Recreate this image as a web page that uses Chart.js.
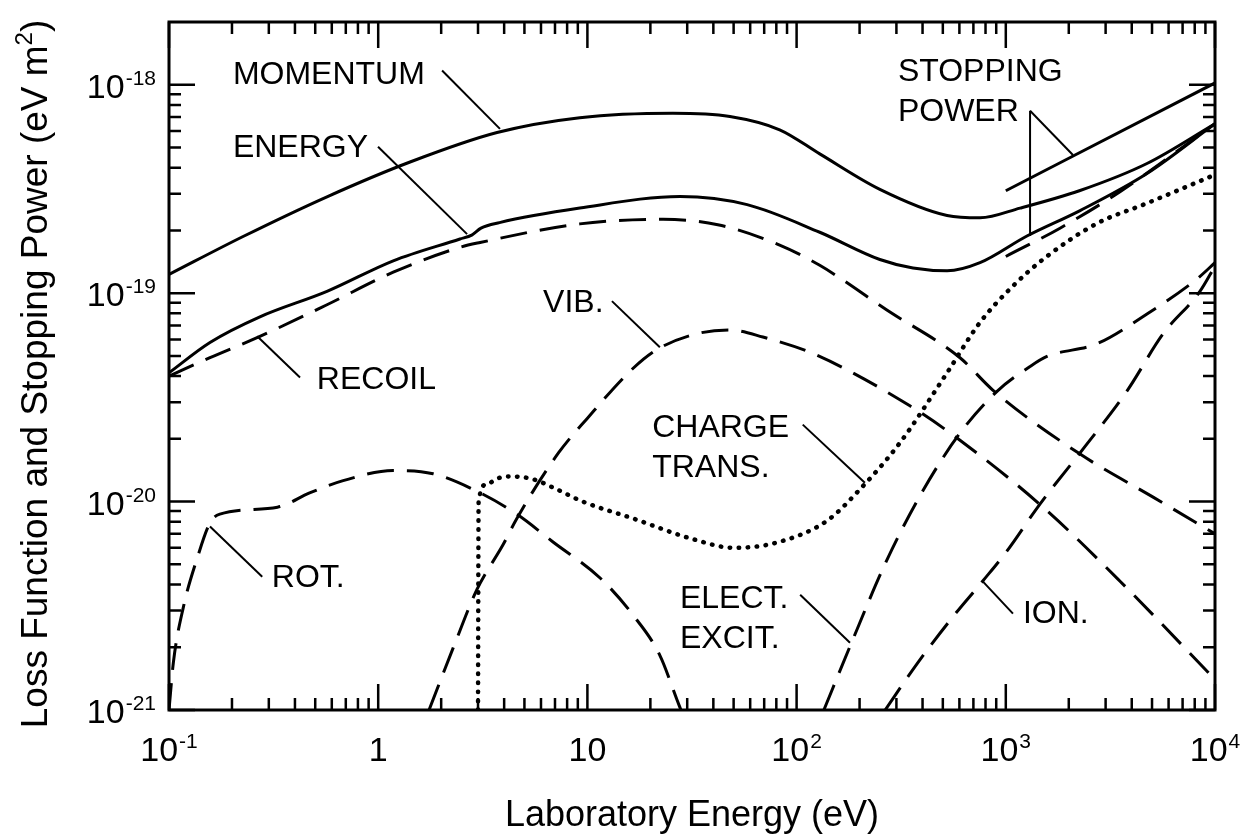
<!DOCTYPE html>
<html>
<head>
<meta charset="utf-8">
<title>Loss Function and Stopping Power</title>
<script src="https://cdn.jsdelivr.net/npm/chart.js"></script>
<style>
  html, body { margin: 0; padding: 0; background: #fff; }
  #wrap { width: 1246px; height: 836px; }
</style>
</head>
<body>
<div id="wrap"><canvas id="lossChart" width="1246" height="836"></canvas></div>
<script>
// values, [laboratory energy (eV), value (eV m^2)]
var momentum = [[0.1, 1.23e-19], [0.226, 1.87e-19], [0.569, 2.9e-19], [1.42, 4.26e-19], [3.7, 5.9e-19],
  [9.2, 6.95e-19], [25.6, 7.3e-19], [48, 7.04e-19], [83, 6.08e-19], [129, 4.66e-19], [250, 3.15e-19],
  [524, 2.36e-19], [753, 2.3e-19], [1170, 2.56e-19], [2265, 3.11e-19], [4730, 4.19e-19], [10000, 6.5e-19]];
var energy = [[0.1, 4.15e-20], [0.157, 5.8e-20], [0.272, 7.7e-20], [0.569, 1.02e-19], [1.18, 1.43e-19],
  [2.46, 1.82e-19], [2.8, 1.9e-19], [3.1, 2.05e-19], [3.8, 2.18e-19], [9.2, 2.56e-19], [27.7, 2.91e-19],
  [58, 2.66e-19], [129, 1.96e-19], [250, 1.45e-19], [360, 1.32e-19], [524, 1.28e-19], [753, 1.4e-19],
  [1262, 1.88e-19], [2265, 2.49e-19], [4730, 3.75e-19], [10000, 6.5e-19]];
var recoil = [[0.1, 4.0e-20], [0.157, 4.9e-20], [0.272, 6.2e-20], [0.569, 8.8e-20], [1.18, 1.26e-19],
  [2.46, 1.66e-19], [3.07, 1.75e-19], [9.2, 2.15e-19], [23, 2.26e-19], [42, 2.13e-19], [83, 1.7e-19],
  [129, 1.36e-19], [270, 8.3e-20], [604, 4.9e-20], [869, 3.42e-20], [2265, 1.69e-20], [5060, 1.05e-20],
  [10000, 7.0e-21]];
var vibration = [[1.75, 1.0e-21], [2.28, 1.98e-21], [2.97, 3.8e-21], [3.95, 6.2e-21], [4.6, 8.3e-21],
  [7.3, 1.72e-20], [9.96, 2.5e-20], [16.5, 4.35e-20], [21.5, 5.36e-20], [33.4, 6.39e-20], [48, 6.66e-20],
  [69, 6.16e-20], [122, 5.09e-20], [348, 2.88e-20], [604, 1.97e-20], [1507, 9.4e-21], [3516, 4.15e-21],
  [10000, 1.4e-21]];
var rotation = [[0.1, 1.0e-21], [0.105, 1.7e-21], [0.117, 3.1e-21], [0.136, 5.3e-21], [0.157, 7.9e-21],
  [0.175, 8.7e-21], [0.33, 9.4e-21], [0.47, 1.1e-20], [0.68, 1.26e-20], [1.18, 1.41e-20], [1.83, 1.36e-20],
  [2.97, 1.12e-20], [4.6, 8.7e-21], [6.85, 6.4e-21], [11.5, 4.3e-21], [16.5, 2.86e-21], [22.2, 1.83e-21],
  [26.8, 1.12e-21], [28, 1.0e-21]];
var chargeTransfer = [[3.0, 1.0e-21], [3.02, 1.0e-20], [3.3, 1.21e-20], [3.7, 1.29e-20], [4.3, 1.32e-20],
  [5.5, 1.28e-20], [7.2, 1.14e-20], [9.5, 1.0e-20], [16.5, 8.3e-21], [32, 6.6e-21], [50, 6.0e-21],
  [80, 6.35e-21], [140, 8.1e-21], [200, 1.14e-20], [310, 1.9e-20], [520, 4.1e-20], [750, 7.2e-20],
  [1080, 1.08e-19], [1570, 1.5e-19], [2730, 2.16e-19], [4730, 2.7e-19], [10000, 3.7e-19]];
var electExcit = [[135, 1.0e-21], [180, 2.02e-21], [270, 5.24e-21], [402, 1.13e-20], [604, 2.13e-20],
  [908, 3.38e-20], [1306, 4.45e-20], [1573, 4.97e-20], [2730, 5.72e-20], [4730, 7.95e-20],
  [8200, 1.17e-19], [10000, 1.4e-19]];
var ionization = [[265, 1.0e-21], [377, 1.67e-21], [560, 2.81e-21], [778, 4.17e-21], [1014, 5.8e-21],
  [1459, 9.76e-21], [2445, 1.89e-20], [3800, 3.4e-20], [5640, 6.37e-20], [8470, 1.02e-19], [10000, 1.35e-19]];
var stoppingUpper = [[1000, 3.1e-19], [10000, 1.02e-18]];
var stoppingLower = [[1000, 1.5e-19], [1816, 2.05e-19], [3516, 3.07e-19], [10000, 6.5e-19]];

// axes
var xTickValues = [0.1, 1, 10, 100, 1000, 10000];
var xTickText = [['10', '-1'], ['1', ''], ['10', ''], ['10', '2'], ['10', '3'], ['10', '4']];
var yTickValues = [1e-21, 1e-20, 1e-19, 1e-18];
var yTickText = [['10', '-21'], ['10', '-20'], ['10', '-19'], ['10', '-18']];
var xTitle = 'Laboratory Energy (eV)';
var yTitle = ['Loss Function and Stopping Power (eV m', '2', ')'];

// curve labels, placed in data coordinates
var notes = [
  { lines: ['MOMENTUM'], at: [0.202, 1.01e-18], leaders: [[[2.02, 1.17e-18], [3.82, 6.14e-19]]] },
  { lines: ['ENERGY'], at: [0.202, 4.51e-19], leaders: [[[0.998, 5.04e-19], [2.66, 1.92e-19]]] },
  { lines: ['RECOIL'], at: [0.509, 3.45e-20], leaders: [[[0.423, 3.94e-20], [0.264, 6.21e-20]]] },
  { lines: ['VIB.'], at: [6.14, 8.1e-20], leaders: [[[13.1, 9.16e-20], [22.2, 5.5e-20]]] },
  { lines: ['CHARGE', 'TRANS.'], at: [20.4, 2.05e-20], leaders: [[[107, 2.34e-20], [212, 1.23e-20]]] },
  { lines: ['ELECT.', 'EXCIT.'], at: [27.7, 3.09e-21], leaders: [[[104, 3.57e-21], [180, 2.1e-21]]] },
  { lines: ['ION.'], at: [1208, 2.62e-21], leaders: [[[1082, 2.9e-21], [778, 4.13e-21]]] },
  { lines: ['ROT.'], at: [0.31, 3.9e-21], leaders: [[[0.279, 4.36e-21], [0.157, 7.59e-21]]] },
  { lines: ['STOPPING', 'POWER'], at: [305, 1.04e-18],
    leaders: [[[1306, 7.5e-19], [1306, 1.88e-19]], [[1306, 7.5e-19], [2094, 4.6e-19]]] }
];

var FONT = '"Liberation Sans", Arial, Helvetica, sans-serif';
var DASH = [27, 13];
var DOT = [0.5, 8.5];

function series(label, points, dash) {
  return {
    label: label,
    data: points.map(function (p) { return { x: p[0], y: p[1] }; }),
    borderColor: '#000',
    borderWidth: dash === DOT ? 4.5 : 3,
    borderDash: dash || [],
    borderCapStyle: dash === DOT ? 'round' : 'butt',
    pointRadius: 0,
    fill: false,
    cubicInterpolationMode: 'monotone'
  };
}

// draws a "10" with a raised exponent, y is the baseline of the base
function drawPower(ctx, parts, x, y, align) {
  ctx.font = '34px ' + FONT;
  var wb = ctx.measureText(parts[0]).width;
  ctx.font = '21px ' + FONT;
  var we = parts[1] ? ctx.measureText(parts[1]).width + 1 : 0;
  var x0 = align === 'right' ? x - wb - we : x - (wb + we) / 2;
  ctx.textAlign = 'left';
  ctx.font = '34px ' + FONT;
  ctx.fillText(parts[0], x0, y);
  if (parts[1]) {
    ctx.font = '21px ' + FONT;
    ctx.fillText(parts[1], x0 + wb + 1, y - 13);
  }
}

var decorations = {
  id: 'decorations',
  beforeDraw: function (chart) {
    var ctx = chart.ctx;
    ctx.save();
    ctx.fillStyle = '#fff';
    ctx.fillRect(0, 0, chart.width, chart.height);
    ctx.restore();
  },
  afterDatasetsDraw: function (chart) {
    var ctx = chart.ctx, a = chart.chartArea;
    var xs = chart.scales.x, ys = chart.scales.y;
    ctx.save();
    ctx.strokeStyle = '#000';
    ctx.fillStyle = '#000';

    // frame
    ctx.lineWidth = 3;
    ctx.strokeRect(a.left, a.top, a.right - a.left, a.bottom - a.top);

    // inward ticks on all four sides
    ctx.lineWidth = 2.5;
    ctx.beginPath();
    var e, m, v, p, len;
    for (e = -1; e <= 4; e++) {
      for (m = 1; m <= 9; m++) {
        v = m * Math.pow(10, e);
        if (v > 10000 * 1.0001) break;
        p = xs.getPixelForValue(v);
        len = m === 1 ? 26 : 12;
        ctx.moveTo(p, a.bottom); ctx.lineTo(p, a.bottom - len);
        ctx.moveTo(p, a.top); ctx.lineTo(p, a.top + len);
      }
    }
    for (e = -21; e <= -18; e++) {
      for (m = 1; m <= 9; m++) {
        v = m * Math.pow(10, e);
        if (v > 2e-18 * 0.999) break;
        p = ys.getPixelForValue(v);
        len = m === 1 ? 26 : 12;
        ctx.moveTo(a.left, p); ctx.lineTo(a.left + len, p);
        ctx.moveTo(a.right, p); ctx.lineTo(a.right - len, p);
      }
    }
    ctx.stroke();

    // tick labels
    ctx.textBaseline = 'alphabetic';
    xTickValues.forEach(function (val, i) {
      drawPower(ctx, xTickText[i], xs.getPixelForValue(val), a.bottom + 51, 'center');
    });
    yTickValues.forEach(function (val, i) {
      drawPower(ctx, yTickText[i], a.left - 13, ys.getPixelForValue(val) + 13, 'right');
    });

    // axis titles
    ctx.font = '36px ' + FONT;
    ctx.textAlign = 'center';
    ctx.fillText(xTitle, (a.left + a.right) / 2, 826);

    ctx.save();
    ctx.translate(47, (a.top + a.bottom) / 2 + 8);
    ctx.rotate(-Math.PI / 2);
    ctx.font = '37px ' + FONT;
    var w1 = ctx.measureText(yTitle[0]).width, w3 = ctx.measureText(yTitle[2]).width;
    ctx.font = '24px ' + FONT;
    var w2 = ctx.measureText(yTitle[1]).width;
    var x0 = -(w1 + w2 + w3) / 2;
    ctx.textAlign = 'left';
    ctx.font = '37px ' + FONT;
    ctx.fillText(yTitle[0], x0, 0);
    ctx.font = '24px ' + FONT;
    ctx.fillText(yTitle[1], x0 + w1, -15);
    ctx.font = '37px ' + FONT;
    ctx.fillText(yTitle[2], x0 + w1 + w2, 0);
    ctx.restore();

    // curve labels and their leader lines
    ctx.font = '32px ' + FONT;
    ctx.textAlign = 'left';
    ctx.lineWidth = 2;
    notes.forEach(function (n) {
      var tx = xs.getPixelForValue(n.at[0]), ty = ys.getPixelForValue(n.at[1]);
      n.lines.forEach(function (line, k) { ctx.fillText(line, tx, ty + k * 40); });
      n.leaders.forEach(function (seg) {
        ctx.beginPath();
        ctx.moveTo(xs.getPixelForValue(seg[0][0]), ys.getPixelForValue(seg[0][1]));
        ctx.lineTo(xs.getPixelForValue(seg[1][0]), ys.getPixelForValue(seg[1][1]));
        ctx.stroke();
      });
    });
    ctx.restore();
  }
};

new Chart(document.getElementById('lossChart').getContext('2d'), {
  type: 'line',
  data: {
    datasets: [
      series('Momentum', momentum),
      series('Energy', energy),
      series('Recoil', recoil, DASH),
      series('Vib.', vibration, DASH),
      series('Rot.', rotation, DASH),
      series('Charge trans.', chargeTransfer, DOT),
      series('Elect. excit.', electExcit, DASH),
      series('Ion.', ionization, DASH),
      series('Stopping power', stoppingUpper),
      series('Stopping power (dashed)', stoppingLower, DASH)
    ]
  },
  options: {
    responsive: false,
    animation: false,
    devicePixelRatio: 1,
    events: [],
    layout: { padding: { left: 169, top: 22, right: 31, bottom: 126 } },
    plugins: { legend: { display: false }, tooltip: { enabled: false } },
    scales: {
      x: { type: 'logarithmic', min: 0.1, max: 10000, display: false },
      y: { type: 'logarithmic', min: 1e-21, max: 2e-18, display: false }
    }
  },
  plugins: [decorations]
});
</script>
</body>
</html>
